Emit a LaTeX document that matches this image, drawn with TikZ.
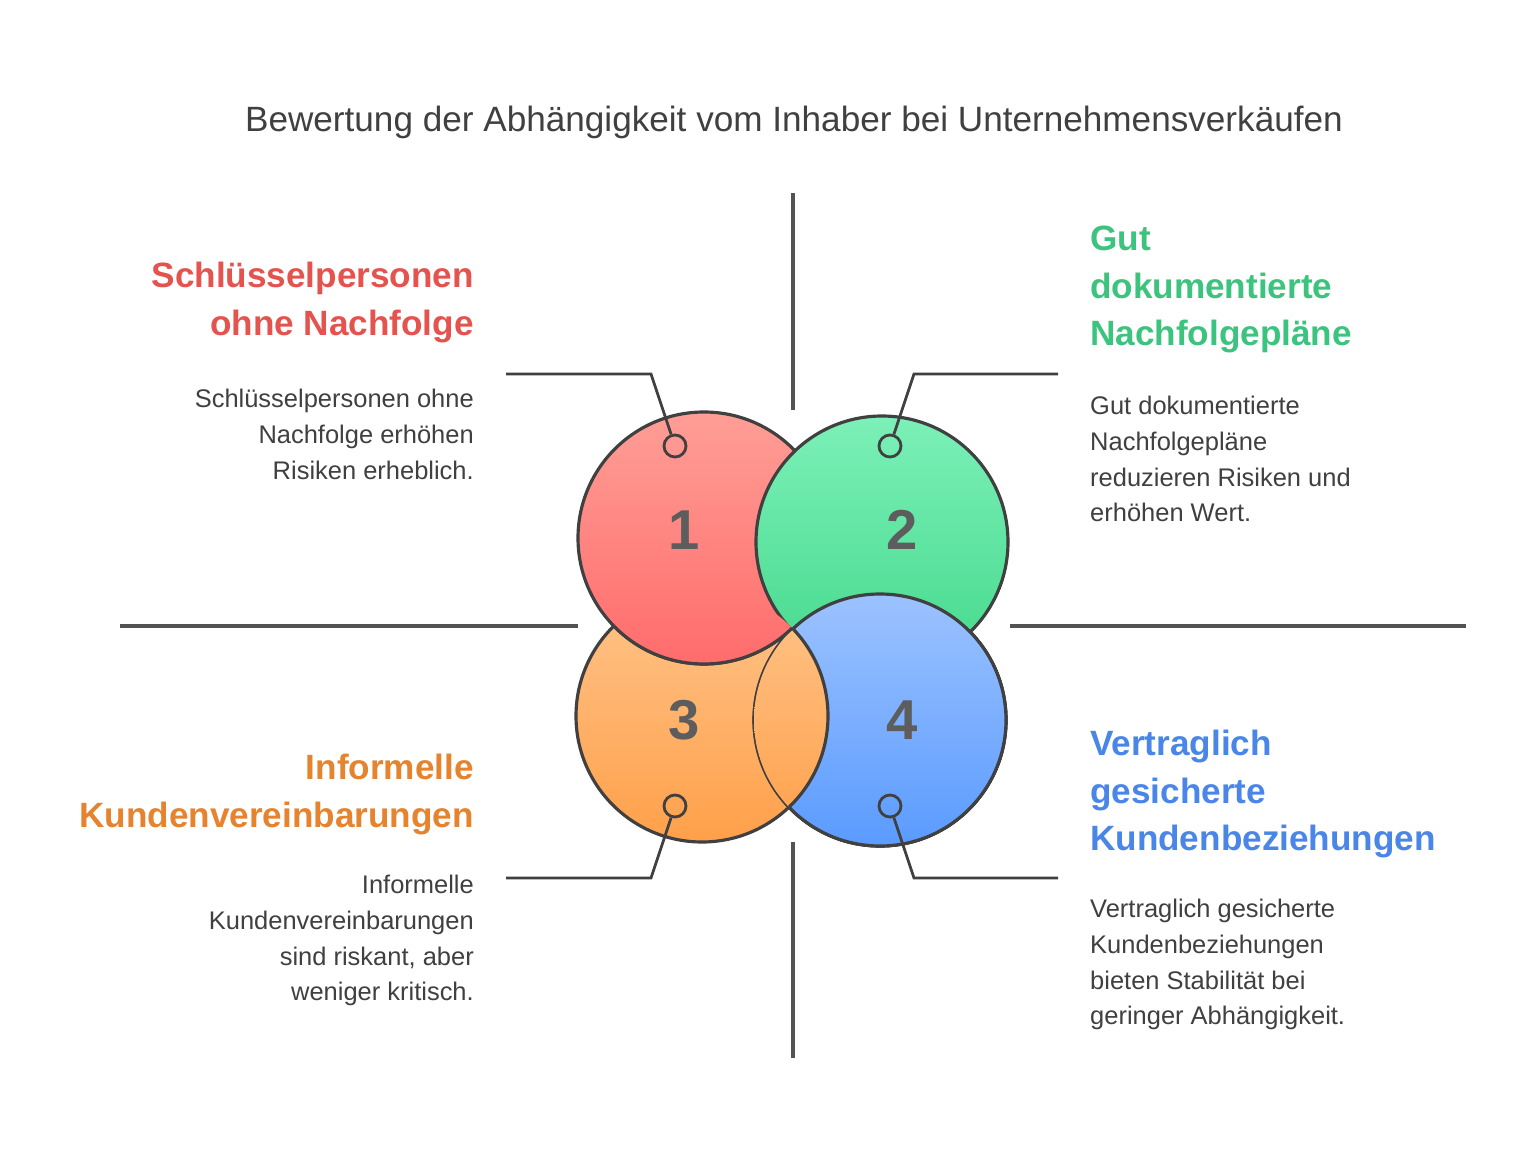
\documentclass[tikz,border=0pt]{standalone}
\usepackage{fontspec}
\setmainfont{Liberation Sans}
\usetikzlibrary{positioning}
\definecolor{ink}{HTML}{404040}
\definecolor{redhead}{HTML}{E5534F}
\definecolor{greenhead}{HTML}{3CC47F}
\definecolor{orangehead}{HTML}{E6832E}
\definecolor{bluehead}{HTML}{4A86E8}
\tikzset{ball/.style={circle,draw=ink,line width=1.8pt,minimum size=252*0.02cm},
		pin/.style={circle,draw=ink,line width=1.6pt,fill=none,minimum size=22*0.02cm,inner sep=0pt},
		lead/.style={draw=ink,line width=1.6pt},
		axis/.style={draw=ink!90,line width=1.8pt},
		num/.style={font=\fontsize{32}{32}\selectfont\bfseries,text=ink!85},
		headl/.style={anchor=north east,align=right,font=\fontsize{20}{27}\selectfont\bfseries},
		headr/.style={anchor=north west,align=left,font=\fontsize{20}{27}\selectfont\bfseries},
		bodyl/.style={anchor=north east,align=right,text=ink,font=\fontsize{14.5}{20.3}\selectfont},
		bodyr/.style={anchor=north west,align=left,text=ink,font=\fontsize{14.5}{20.3}\selectfont}}
\begin{document}
\begin{tikzpicture}[x=0.02cm,y=-0.02cm]
	\useasboundingbox[fill=white] (0,0) rectangle (1516,1156);
	\node[text=ink,font=\fontsize{20}{24}\selectfont] (title) at (794,122) {Bewertung der Abhängigkeit vom Inhaber bei Unternehmensverkäufen};
	% axes
	\draw[axis] (793,193) -- (793,410);
	\draw[axis] (793,842) -- (793,1058);
	\draw[axis] (120,626) -- (578,626);
	\draw[axis] (1010,626) -- (1466,626);
	% circles
	\node[ball,top color={rgb,255:red,255;green,158;blue,150},bottom color={rgb,255:red,255;green,108;blue,108}] (c4) at (880,720) {};
	\node[ball,top color={rgb,255:red,255;green,196;blue,138},bottom color={rgb,255:red,255;green,160;blue,74}] (c3) at (702,716) {};
	\node[ball,top color={rgb,255:red,156;green,194;blue,255},bottom color={rgb,255:red,90;green,155;blue,255}] (c4) at (880,720) {};
	\node[ball,top color={rgb,255:red,255;green,158;blue,150},bottom color={rgb,255:red,255;green,108;blue,108}] (c1) at (704,538) {};
	\node[ball,top color={rgb,255:red,124;green,240;blue,184},bottom color={rgb,255:red,69;green,217;blue,140}] (c2) at (882,542) {};
	\node[ball,top color={rgb,255:red,156;green,194;blue,255},bottom color={rgb,255:red,90;green,155;blue,255}] (c4b) at (880,720) {};
	\begin{scope}
		\clip (880,720) circle (126);
		\node[ball,top color={rgb,255:red,255;green,196;blue,138},bottom color={rgb,255:red,255;green,160;blue,74}] (c3b) at (702,716) {};
	\end{scope}
	\begin{scope}
		\clip (702,716) circle (126);
		\node[ball,top color={rgb,255:red,255;green,158;blue,150},bottom color={rgb,255:red,255;green,108;blue,108}] (c1b) at (704,538) {};
	\end{scope}
	\node[num] (n1) at (684,530) {1};
	\node[num] (n2) at (902,530) {2};
	\node[num] (n3) at (684,720) {3};
	\node[num] (n4) at (902,720) {4};
	% pins and leads
	\node[pin] (p1) at (675,446) {};
	\node[pin] (p2) at (890,446) {};
	\node[pin] (p3) at (675,806) {};
	\node[pin] (p4) at (890,806) {};
	\coordinate (k1) at (651,374); \coordinate (e1) at (506,374);
	\coordinate (k2) at (914,374); \coordinate (e2) at (1058,374);
	\coordinate (k3) at (651,878); \coordinate (e3) at (506,878);
	\coordinate (k4) at (914,878); \coordinate (e4) at (1058,878);
	\draw[lead] (p1) -- (k1) -- (e1);
	\draw[lead] (p2) -- (k2) -- (e2);
	\draw[lead] (p3) -- (k3) -- (e3);
	\draw[lead] (p4) -- (k4) -- (e4);
	% texts
	\node[headl,text=redhead] (h1) at (480,256) {Schlüsselpersonen\\ohne Nachfolge};
	\node[bodyl] (b1) at (480,383) {Schlüsselpersonen ohne\\Nachfolge erhöhen\\Risiken erheblich.};
	\node[headr,text=greenhead] (h2) at (1084,220) {Gut\\dokumentierte\\Nachfolgepläne};
	\node[bodyr] (b2) at (1084,390) {Gut dokumentierte\\Nachfolgepläne\\reduzieren Risiken und\\erhöhen Wert.};
	\node[headl,text=orangehead] (h3) at (480,748) {Informelle\\Kundenvereinbarungen};
	\node[bodyl] (b3) at (480,869) {Informelle\\Kundenvereinbarungen\\sind riskant, aber\\weniger kritisch.};
	\node[headr,text=bluehead] (h4) at (1084,724) {Vertraglich\\gesicherte\\Kundenbeziehungen};
	\node[bodyr] (b4) at (1084,893) {Vertraglich gesicherte\\Kundenbeziehungen\\bieten Stabilität bei\\geringer Abhängigkeit.};
\end{tikzpicture}
\end{document}
